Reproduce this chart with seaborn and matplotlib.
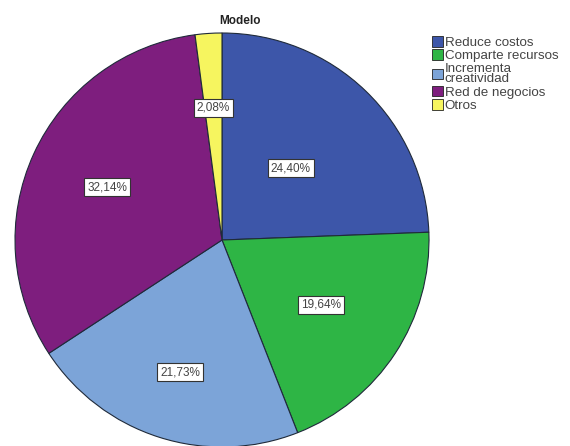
import matplotlib
matplotlib.use("Agg")
import matplotlib.pyplot as plt
import seaborn as sns
import numpy as np

sns.set_theme(style="white")
plt.rcParams["font.family"] = ["Liberation Sans", "DejaVu Sans"]

categories = ["Reduce costos", "Comparte recursos", "Incrementa\ncreatividad",
              "Red de negocios", "Otros"]
percentages = [24.40, 19.64, 21.73, 32.14, 2.08]
label_texts = ["24,40%", "19,64%", "21,73%", "32,14%", "2,08%"]
colors = ["#3D56A9", "#2EB545", "#7CA4D8", "#7E1E7E", "#F6F55F"]
# radial placement of each percentage label, as a fraction of the radius
label_radius = [0.48, 0.57, 0.67, 0.61, 0.64]

W, H = 570, 446
fig = plt.figure(figsize=(W / 100, H / 100), dpi=100)
fig.patch.set_facecolor("white")

cx, cy, R = 222, 240, 207
ax = fig.add_axes([(cx - R) / W, (H - cy - R) / H, 2 * R / W, 2 * R / H])
ax.axis("off")

wedges, _ = ax.pie(percentages, colors=colors, startangle=90, counterclock=False,
                   radius=1.0, wedgeprops=dict(edgecolor="#1f2a3a", linewidth=0.8),
                   frame=False)
ax.set_xlim(-1, 1)
ax.set_ylim(-1, 1)
ax.set_aspect("auto")

for w, txt, rf in zip(wedges, label_texts, label_radius):
    ang = np.deg2rad((w.theta1 + w.theta2) / 2)
    ax.text(rf * np.cos(ang), rf * np.sin(ang), txt, ha="center", va="center",
            fontsize=8.5, color="#444444",
            bbox=dict(boxstyle="square,pad=0.25", facecolor="white",
                      edgecolor="#333333", linewidth=0.8))

fig.text(240 / W, 1 - 21 / H, "Modelo", ha="center", va="center",
         fontsize=8.5, fontweight="bold", color="#222222")

leg = fig.legend(wedges, categories, loc="upper left",
                 bbox_to_anchor=(432 / W, 1 - 36 / H), frameon=False,
                 fontsize=9.6, handlelength=0.85, handleheight=0.85,
                 handletextpad=0.1, labelspacing=0.03, borderpad=0.0,
                 borderaxespad=0.0)
for h in leg.legend_handles:
    h.set_edgecolor("#222222")
    h.set_linewidth(0.6)
for t in leg.get_texts():
    t.set_color("#444444")
    t.set_linespacing(0.85)

fig.savefig("out.png", dpi=100, facecolor="white")
